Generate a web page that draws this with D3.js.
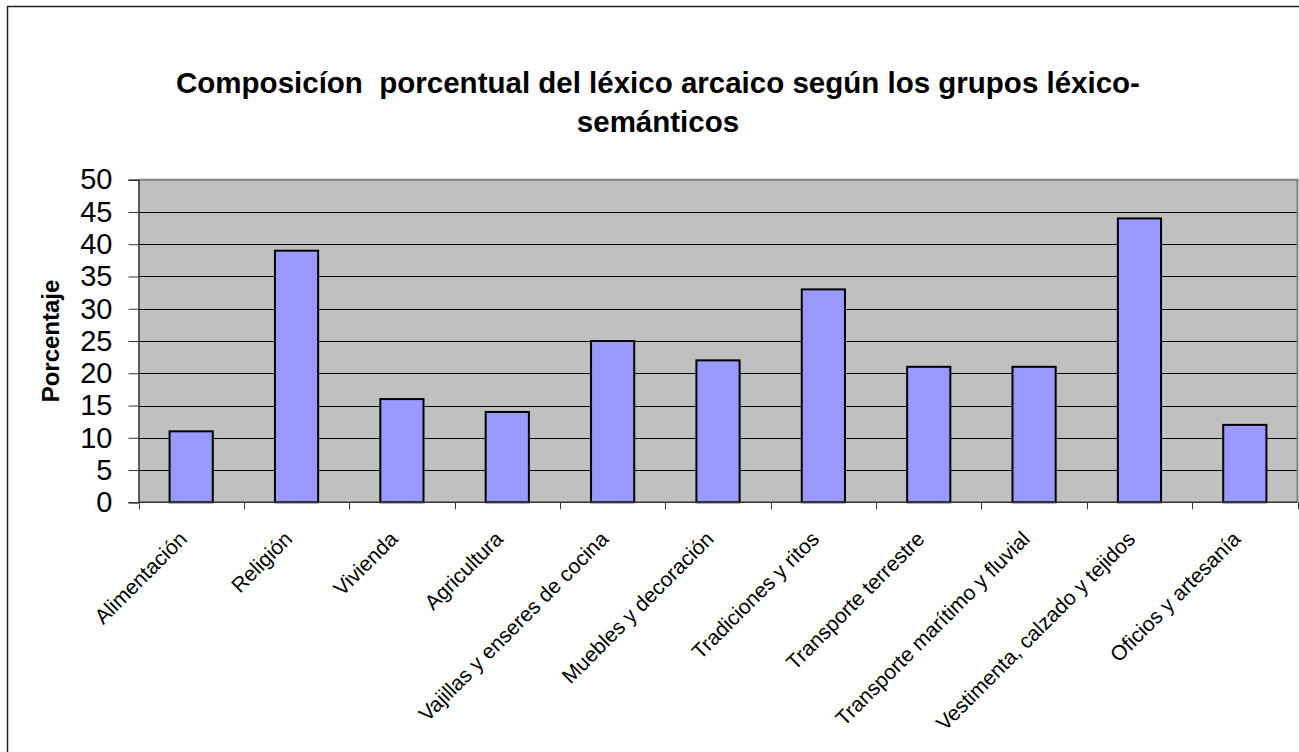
<!DOCTYPE html>
<html>
<head>
<meta charset="utf-8">
<script src="https://cdn.jsdelivr.net/npm/d3@7"></script>
<style>
  html, body { margin: 0; padding: 0; background: #fff; }
  svg { display: block; }
  text { font-family: Arial, "Liberation Sans", Helvetica, sans-serif; fill: #000; }
</style>
</head>
<body>
<svg id="chart" width="1299" height="752"></svg>
<script>
// Lexical groups and their share (%) of archaic vocabulary
const categories = [
  "Alimentación", "Religión", "Vivienda", "Agricultura",
  "Vajillas y enseres de cocina", "Muebles y decoración",
  "Tradiciones y ritos", "Transporte terrestre",
  "Transporte marítimo y fluvial", "Vestimenta, calzado y tejidos",
  "Oficios y artesanía"
];
const values = [11, 39, 16, 14, 25, 22, 33, 21, 21, 44, 12];
const yTicks = [0, 5, 10, 15, 20, 25, 30, 35, 40, 45, 50];
const titleLines = [
  "Composicíon  porcentual del léxico arcaico según los grupos léxico-",
  "semánticos"
];
const yLabel = "Porcentaje";

const svg = d3.select("#chart");

// chart frame
svg.append("rect")
  .attr("x", 7.5).attr("y", 6.5)
  .attr("width", 1320).attr("height", 780)
  .attr("fill", "#fff").attr("stroke", "#222").attr("stroke-width", 1.5);

const plot = { left: 138.5, right: 1297.5, top: 179.7, bottom: 502.3 };

const x = d3.scaleBand()
  .domain(categories)
  .range([plot.left, plot.right])
  .paddingInner(0.59)
  .paddingOuter(0.295);

const y = d3.scaleLinear().domain([0, 50]).range([plot.bottom, plot.top]);

// plot area background
svg.append("rect")
  .attr("x", plot.left).attr("y", plot.top)
  .attr("width", plot.right - plot.left).attr("height", plot.bottom - plot.top)
  .attr("fill", "#c0c0c0");

// horizontal gridlines
svg.append("g")
  .selectAll("line")
  .data(yTicks.filter(t => t > 0 && t < 50))
  .join("line")
  .attr("x1", plot.left).attr("x2", plot.right)
  .attr("y1", d => Math.round(y(d)) + 0.5).attr("y2", d => Math.round(y(d)) + 0.5)
  .attr("stroke", "#000").attr("stroke-width", 1);

// plot border (top and right)
svg.append("path")
  .attr("d", `M${plot.left},${plot.top}H${plot.right}V${plot.bottom}`)
  .attr("fill", "none").attr("stroke", "#808080").attr("stroke-width", 2);

// bars
svg.append("g")
  .selectAll("rect")
  .data(values)
  .join("rect")
  .attr("x", (d, i) => x(categories[i]))
  .attr("y", d => y(d))
  .attr("width", x.bandwidth())
  .attr("height", d => y(0) - y(d))
  .attr("fill", "#9999ff")
  .attr("stroke", "#000")
  .attr("stroke-width", 2);

// y axis
const yAxis = d3.axisLeft(y)
  .tickValues(yTicks)
  .tickSize(10)
  .tickPadding(16)
  .tickFormat(d3.format("d"));
const gy = svg.append("g")
  .attr("transform", `translate(${plot.left},0)`)
  .call(yAxis);
gy.select(".domain").attr("stroke", "#333").attr("stroke-width", 1.5);
gy.selectAll(".tick line").attr("stroke", "#333");
gy.selectAll(".tick text")
  .style("font-size", "29px")
  .attr("font-family", null);

// x axis: ticks at category boundaries
const step = x.step();
const boundaries = d3.range(categories.length + 1).map(i => plot.left + i * step);
svg.append("line")
  .attr("x1", plot.left).attr("x2", plot.right)
  .attr("y1", plot.bottom).attr("y2", plot.bottom)
  .attr("stroke", "#333").attr("stroke-width", 1.5);
svg.append("g")
  .selectAll("line")
  .data(boundaries)
  .join("line")
  .attr("x1", d => Math.round(d) + 0.5).attr("x2", d => Math.round(d) + 0.5)
  .attr("y1", plot.bottom).attr("y2", plot.bottom + 7)
  .attr("stroke", "#333");

// rotated category labels
svg.append("g")
  .selectAll("text")
  .data(categories)
  .join("text")
  .attr("text-anchor", "end")
  .attr("transform", d => `translate(${x(d) + x.bandwidth() / 2 - 3},${plot.bottom + 38}) rotate(-45)`)
  .style("font-size", "21px")
  .text(d => d);

// y axis title
svg.append("text")
  .attr("text-anchor", "middle")
  .attr("transform", "translate(59,341) rotate(-90)")
  .style("font-size", "24px")
  .style("font-weight", "bold")
  .text(yLabel);

// chart title
svg.append("g")
  .selectAll("text")
  .data(titleLines)
  .join("text")
  .attr("x", 658)
  .attr("y", (d, i) => 93 + i * 39)
  .attr("text-anchor", "middle")
  .style("font-size", "29.5px")
  .style("font-weight", "bold")
  .style("white-space", "pre")
  .text(d => d);
</script>
</body>
</html>
